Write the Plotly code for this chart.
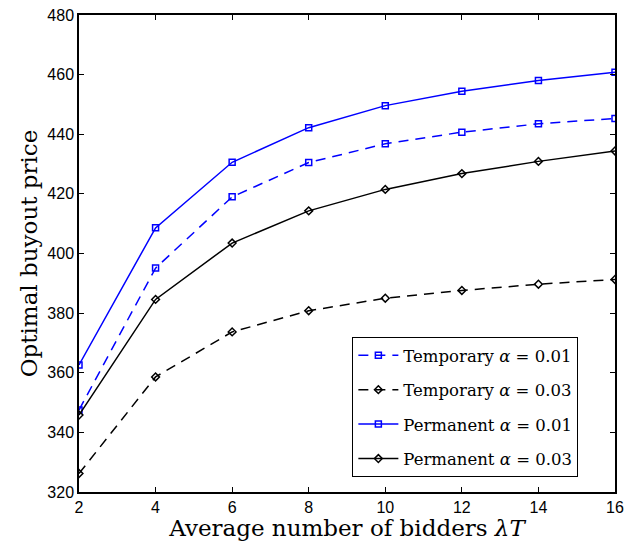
import plotly.graph_objects as go

x_vals = [2, 4, 6, 8, 10, 12, 14, 16]
temp_001 = [347.5, 395.1, 419.0, 430.5, 436.8, 440.7, 443.5, 445.3]
temp_003 = [326.2, 358.6, 373.7, 380.8, 385.0, 387.6, 389.7, 391.3]
perm_001 = [362.6, 408.6, 430.6, 442.2, 449.6, 454.4, 458.0, 460.8]
perm_003 = [345.8, 384.6, 403.5, 414.3, 421.5, 426.8, 430.9, 434.4]

x_ticks = [2, 4, 6, 8, 10, 12, 14, 16]
y_ticks = [320, 340, 360, 380, 400, 420, 440, 460, 480]

BLUE = "#0000ff"
BLACK = "#000000"

series = [
    ("Temporary <i>α</i> = 0.01", temp_001, BLUE, "dash", "square-open"),
    ("Temporary <i>α</i> = 0.03", temp_003, BLACK, "dash", "diamond-open"),
    ("Permanent <i>α</i> = 0.01", perm_001, BLUE, "solid", "square-open"),
    ("Permanent <i>α</i> = 0.03", perm_003, BLACK, "solid", "diamond-open"),
]

fig = go.Figure()
for i, (name, ys, col, dash, sym) in enumerate(series):
    fig.add_trace(go.Scatter(
        x=x_vals, y=ys, name=name, mode="lines+markers",
        line=dict(color=col, width=1.5, dash="10px,7px" if dash == "dash" else "solid"),
        marker=dict(symbol=sym, size=6, color=col, line=dict(color=col, width=1.5)),
        legendgroup=f"g{i}",
    ))

axis_common = dict(
    showgrid=False, zeroline=False, showline=True, linecolor="black", linewidth=1.5,
    mirror="ticks", ticks="inside", ticklen=5, tickcolor="black", tickwidth=1,
    automargin=False, ticklabeloverflow="allow",
    tickfont=dict(family="Liberation Sans, Arial, sans-serif", size=16, color="black"),
)

# page body has an 8px default margin, so the figure is sized to fit the window
fig.update_layout(
    width=624, height=533,
    margin=dict(l=71, r=17, t=7, b=49),
    paper_bgcolor="white", plot_bgcolor="white",
    xaxis=dict(range=[2, 16], tickvals=x_ticks,
               title=dict(text="Average number of bidders <i>λT</i>",
                          font=dict(family="DejaVu Serif, serif", size=23, color="black"),
                          standoff=2),
               **axis_common),
    yaxis=dict(range=[320, 480], tickvals=y_ticks,
               title=dict(text="Optimal buyout price",
                          font=dict(family="DejaVu Serif, serif", size=23, color="black"),
                          standoff=3),
               **axis_common),
    legend=dict(
        x=0.51, y=0.325, xanchor="left", yanchor="top",
        bordercolor="black", borderwidth=1, bgcolor="white",
        font=dict(family="DejaVu Serif, serif", size=16.5, color="black"),
        tracegroupgap=10, itemwidth=40,
    ),
    showlegend=True,
)

fig.write_html("out.html")
